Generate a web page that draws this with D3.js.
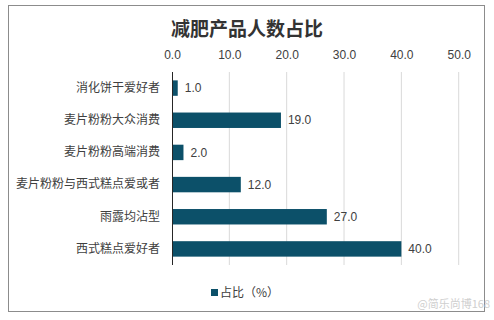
<!DOCTYPE html>
<html>
<head>
<meta charset="utf-8">
<script src="https://cdn.jsdelivr.net/npm/d3@7"></script>
<style>
  body { margin: 0; background: #fff; }
  text { font-family: "Liberation Sans", "Noto Sans CJK SC", sans-serif; }
</style>
</head>
<body>
<svg id="chart"></svg>
<script>
// data
const categories = ['消化饼干爱好者', '麦片粉粉大众消费', '麦片粉粉高端消费', '麦片粉粉与西式糕点爱或者', '雨露均沾型', '西式糕点爱好者'];
const values = [1, 19, 2, 12, 27, 40];
const ticks = [0, 10, 20, 30, 40, 50];

const width = 494;
const height = 320;
const margin = { top: 72, right: 35, bottom: 55, left: 172 };

const svg = d3.select('#chart')
  .attr('width', width)
  .attr('height', height);

// outer frame
svg.append('rect')
  .attr('x', 8.5).attr('y', 5.5)
  .attr('width', 476).attr('height', 306)
  .attr('fill', 'none')
  .attr('stroke', '#8c8c8c');

svg.append('text')
  .attr('x', 247).attr('y', 36)
  .attr('text-anchor', 'middle')
  .style('font-family', '"Noto Sans CJK SC", sans-serif')
  .style('font-size', '19px')
  .style('font-weight', 'bold')
  .attr('fill', '#333')
  .text('减肥产品人数占比');

const x = d3.scaleLinear()
  .domain([0, 50])
  .range([margin.left, 458.7]);

const y = d3.scaleBand()
  .domain(categories)
  .range([margin.top, height - margin.bottom])
  .paddingInner(0.52)
  .paddingOuter(0.26);

// gridlines
svg.append('g')
  .selectAll('line')
  .data(ticks.slice(1))
  .enter()
  .append('line')
  .attr('x1', d => x(d)).attr('x2', d => x(d))
  .attr('y1', margin.top).attr('y2', height - margin.bottom)
  .attr('stroke', '#d9d9d9');

// top axis labels
const xAxis = svg.append('g')
  .attr('transform', `translate(0,${margin.top - 10})`)
  .call(d3.axisTop(x).tickValues(ticks).tickFormat(d3.format('.1f')).tickSize(0));
xAxis.select('.domain').remove();
xAxis.selectAll('text')
  .style('font-size', '12px')
  .attr('fill', '#404040');

// bars
svg.append('g')
  .selectAll('rect')
  .data(values)
  .enter()
  .append('rect')
  .attr('x', x(0))
  .attr('y', (d, i) => y(categories[i]))
  .attr('width', d => x(d) - x(0))
  .attr('height', y.bandwidth())
  .attr('fill', '#0c5069');

// value labels
svg.append('g')
  .selectAll('text')
  .data(values)
  .enter()
  .append('text')
  .attr('x', d => x(d) + 7)
  .attr('y', (d, i) => y(categories[i]) + y.bandwidth() / 2)
  .attr('dy', '0.35em')
  .style('font-size', '12px')
  .attr('fill', '#404040')
  .text(d => d3.format('.1f')(d));

// category axis
const yAxis = svg.append('g')
  .attr('transform', `translate(${x(0)},0)`)
  .call(d3.axisLeft(y).tickSize(0).tickPadding(12));
yAxis.select('.domain')
  .attr('stroke', '#262626')
  .attr('d', `M0.5,${margin.top}V${height - margin.bottom}`);
yAxis.selectAll('text')
  .style('font-family', '"Noto Sans CJK SC", sans-serif')
  .style('font-size', '12px')
  .attr('fill', '#404040');

// legend
svg.append('rect')
  .attr('x', 211).attr('y', 289)
  .attr('width', 7).attr('height', 7)
  .attr('fill', '#0c5069');
svg.append('text')
  .attr('x', 220).attr('y', 297)
  .style('font-family', '"Noto Sans CJK SC", sans-serif')
  .style('font-size', '12px')
  .attr('fill', '#404040')
  .text('占比（%）');

// watermark
svg.append('text')
  .attr('x', 490).attr('y', 308)
  .attr('text-anchor', 'end')
  .style('font-family', '"Noto Sans CJK SC", sans-serif')
  .style('font-size', '11px')
  .attr('fill', '#cfcfcf')
  .text('@简乐尚博168');
</script>
</body>
</html>
